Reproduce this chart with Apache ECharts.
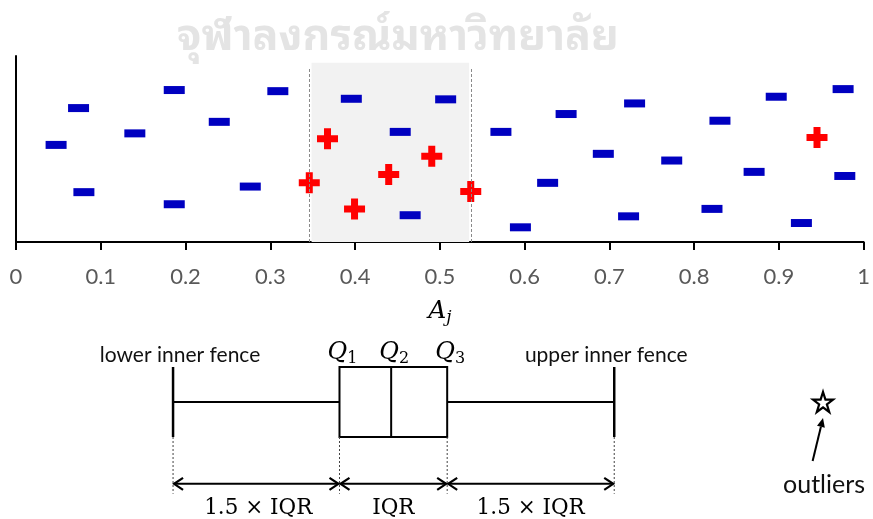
<!DOCTYPE html>
<html>
<head>
<meta charset="utf-8">
<script src="https://cdn.jsdelivr.net/npm/echarts@6/dist/echarts.min.js"></script>
<style>
  html, body { margin: 0; padding: 0; background: #ffffff; }
  #chart { width: 873px; height: 519px; }
</style>
</head>
<body>
<div id="chart"></div>
<script>
// Regular samples: position A_j and vertical jitter
const blueX = [0.0473, 0.0738, 0.0801, 0.1402, 0.1867, 0.1867, 0.2398, 0.2764, 0.3089, 0.3956,
               0.4533, 0.4650, 0.5069, 0.5721, 0.5951, 0.6272, 0.6490, 0.6929, 0.7227, 0.7298,
               0.7736, 0.8211, 0.8305, 0.8708, 0.8969, 0.9266, 0.9758, 0.9778];
const blueY = [0.522, 0.720, 0.268, 0.584, 0.817, 0.203, 0.646, 0.298, 0.811, 0.770,
               0.592, 0.144, 0.767, 0.592, 0.079, 0.318, 0.688, 0.474, 0.138, 0.745,
               0.438, 0.178, 0.652, 0.377, 0.781, 0.102, 0.822, 0.355];
// Highlighted samples
const redX = [0.3675, 0.3460, 0.3994, 0.4397, 0.4905, 0.5365, 0.945];
const redY = [0.555, 0.318, 0.178, 0.363, 0.461, 0.271, 0.562];

// Band between the dashed limits and its shading
const bandLimits = [0.346, 0.5373];
const bandShade = [0.3487, 0.5346];
const bandTop = 0.964;

// Tick labels of the A_j axis
const xTickLabels = ['0', '0.1', '0.2', '0.3', '0.4', '0.5', '0.6', '0.7', '0.8', '0.9', '1'];

// Box diagram: lower inner fence, Q1, Q2, Q3, upper inner fence
const boxStats = [0.1839, 0.3788, 0.4393, 0.5049, 0.7005];
const outlierX = [0.945];

const chart = echarts.init(document.getElementById('chart'), null, { renderer: 'canvas' });

const sansFont = 'Lato, "Open Sans", sans-serif';
const serifFont = '"DejaVu Serif", serif';

const plusPath = 'path://M7,0H14V7H21V14H14V21H7V14H0V7H7Z';
const starPath = 'path://M50,2L61.8,37.6L99,37.6L68.9,59.6L80.4,95L50,73.2L19.6,95L31.1,59.6L1,37.6L38.2,37.6Z';

function drawBoxDiagram(params, api) {
  const lo = api.value(0), q1 = api.value(1), q2 = api.value(2), q3 = api.value(3), hi = api.value(4);
  const P = (x, y) => api.coord([x, y]);
  const kids = [];
  const seg = (a, b, w, dashed) => kids.push({
    type: 'line',
    shape: { x1: a[0], y1: a[1], x2: b[0], y2: b[1] },
    style: dashed ? { stroke: '#444', lineWidth: 1, lineDash: [2, 2] } : { stroke: '#000', lineWidth: w }
  });
  const text = (str, x, y, style) => kids.push({
    type: 'text', x: x, y: y,
    style: Object.assign({ text: str, fill: '#000', align: 'center', verticalAlign: 'middle' }, style)
  });

  // whiskers and fences
  seg(P(lo, 0.5), P(q1, 0.5), 2);
  seg(P(q3, 0.5), P(hi, 0.5), 2);
  seg(P(lo, 0), P(lo, 1), 2.5);
  seg(P(hi, 0), P(hi, 1), 2.5);
  // box and median
  const tl = P(q1, 1), br = P(q3, 0);
  kids.push({ type: 'rect', shape: { x: tl[0], y: tl[1], width: br[0] - tl[0], height: br[1] - tl[1] },
              style: { fill: 'none', stroke: '#000', lineWidth: 2 } });
  seg(P(q2, 0), P(q2, 1), 2);

  // dotted guides down to the dimension arrows
  [lo, q1, q3, hi].forEach(v => seg(P(v, 0), P(v, -0.81), 1, true));

  // double-headed dimension arrows
  const yDim = -0.669;
  const chevron = (x, y, dir) => kids.push({
    type: 'polyline',
    shape: { points: [[x + 9 * dir, y - 6], [x, y], [x + 9 * dir, y + 6]] },
    style: { fill: 'none', stroke: '#000', lineWidth: 2.2 }
  });
  [[lo, q1], [q1, q3], [q3, hi]].forEach(([a, b]) => {
    const pa = P(a, yDim), pb = P(b, yDim);
    seg([pa[0] + 1, pa[1]], [pb[0] - 1, pb[1]], 2);
    chevron(pa[0] + 1, pa[1], 1);
    chevron(pb[0] - 1, pb[1], -1);
  });

  const serif = { fontFamily: serifFont, fontSize: 21.5 };
  const yLab = -1.023;
  const m1 = P((lo + q1) / 2, yLab), m2 = P((q1 + q3) / 2, yLab), m3 = P((q3 + hi) / 2, yLab);
  text('1.5 \u00d7 IQR', m1[0] + 2, m1[1], serif);
  text('IQR', m2[0], m2[1], serif);
  text('1.5 \u00d7 IQR', m3[0], m3[1], serif);

  // fence captions
  const sans = { fontFamily: sansFont, fontSize: 21, fill: '#111' };
  const f1 = P(lo, 1.167), f2 = P(hi, 1.167);
  text('lower inner fence', f1[0] + 7, f1[1], sans);
  text('upper inner fence', f2[0] - 8, f2[1], sans);

  // quartile captions with subscripts
  const qRich = {
    q: { fontFamily: serifFont, fontStyle: 'italic', fontSize: 24, lineHeight: 28 },
    s: { fontFamily: serifFont, fontSize: 16, lineHeight: 16, verticalAlign: 'bottom' }
  };
  [[q1, '1'], [q2, '2'], [q3, '3']].forEach(([v, k]) => {
    const p = P(v, 1.2);
    text('{q|Q}{s|' + k + '}', p[0] + 3, p[1], { rich: qRich });
  });

  return { type: 'group', children: kids };
}

function drawOutlierNote(params, api) {
  const s = api.coord([api.value(0), 0.5]);
  const tip = [s[0], s[1] + 16];
  const tail = [s[0] - 10.4, s[1] + 59];
  const dx = tip[0] - tail[0], dy = tip[1] - tail[1];
  const len = Math.sqrt(dx * dx + dy * dy);
  const ux = dx / len, uy = dy / len;
  const base = [tip[0] - ux * 9, tip[1] - uy * 9];
  return {
    type: 'group',
    children: [
      { type: 'line', shape: { x1: tail[0], y1: tail[1], x2: base[0], y2: base[1] },
        style: { stroke: '#000', lineWidth: 2 } },
      { type: 'polygon', shape: { points: [tip, [base[0] - uy * 4, base[1] + ux * 4], [base[0] + uy * 4, base[1] - ux * 4]] },
        style: { fill: '#000' } },
      { type: 'text', x: s[0] + 1, y: s[1] + 83,
        style: { text: 'outliers', fill: '#111', fontFamily: sansFont, fontSize: 25, align: 'center', verticalAlign: 'middle' } }
    ]
  };
}

const option = {
  backgroundColor: '#ffffff',
  animation: false,
  graphic: [{
    type: 'text', x: 398, y: 38, z: -10,
    style: { text: 'จุฬาลงกรณ์มหาวิทยาลัย', fill: '#e4e4e4', align: 'center', verticalAlign: 'middle',
             fontFamily: '"Noto Sans Thai Looped", "Noto Sans Thai", "Noto Sans", sans-serif', fontSize: 43, fontWeight: 'bold' }
  }],
  grid: [
    { left: 16, right: 3, top: 56, bottom: 277 },
    { left: 16, right: 3, top: 367, height: 70 }
  ],
  xAxis: [{
    gridIndex: 0, type: 'value', min: 0, max: 1, interval: 0.1,
    axisLine: { show: true, lineStyle: { color: '#000', width: 2 } },
    axisTick: { show: true, length: 8, lineStyle: { color: '#000', width: 2 } },
    axisLabel: { color: '#595959', fontFamily: sansFont, fontSize: 22, margin: 24,
                 formatter: v => xTickLabels[Math.round(v * 10)] },
    splitLine: { show: false },
    name: '{a|A}{j|j}', nameLocation: 'middle', nameGap: 54,
    nameTextStyle: {
      rich: {
        a: { fontFamily: serifFont, fontStyle: 'italic', fontSize: 25, lineHeight: 30, color: '#000' },
        j: { fontFamily: serifFont, fontStyle: 'italic', fontSize: 17, lineHeight: 16, verticalAlign: 'bottom', color: '#000' }
      }
    }
  }, {
    gridIndex: 1, type: 'value', min: 0, max: 1, show: false
  }],
  yAxis: [{
    gridIndex: 0, type: 'value', min: 0, max: 1,
    axisLine: { show: true, lineStyle: { color: '#000', width: 2 } },
    axisTick: { show: false }, axisLabel: { show: false }, splitLine: { show: false }
  }, {
    gridIndex: 1, type: 'value', min: 0, max: 1, show: false
  }],
  series: [
    {
      type: 'scatter', xAxisIndex: 0, yAxisIndex: 0, z: 3,
      symbol: 'rect', symbolSize: [21, 8],
      itemStyle: { color: '#0000c0', opacity: 1 },
      data: blueX.map((x, i) => [x, blueY[i]]),
      markArea: {
        silent: true,
        itemStyle: { color: '#f2f2f2' },
        data: [[{ coord: [bandShade[0], 0] }, { coord: [bandShade[1], bandTop] }]]
      },
      markLine: {
        silent: true, symbol: 'none', label: { show: false },
        lineStyle: { color: '#8a8a8a', width: 1, type: [3, 2] },
        data: bandLimits.map(v => [{ coord: [v, 0] }, { coord: [v, 0.94] }])
      }
    },
    {
      type: 'scatter', xAxisIndex: 0, yAxisIndex: 0, z: 4,
      symbol: plusPath, symbolSize: 21,
      itemStyle: { color: '#ff0000', opacity: 1 },
      data: redX.map((x, i) => [x, redY[i]])
    },
    {
      type: 'custom', xAxisIndex: 1, yAxisIndex: 1,
      renderItem: drawBoxDiagram,
      data: [boxStats]
    },
    {
      type: 'scatter', xAxisIndex: 1, yAxisIndex: 1,
      symbol: starPath, symbolSize: 20,
      itemStyle: { color: '#ffffff', borderColor: '#000', borderWidth: 2.2, opacity: 1 },
      data: outlierX.map(x => [x, 0.5])
    },
    {
      type: 'custom', xAxisIndex: 1, yAxisIndex: 1,
      renderItem: drawOutlierNote,
      data: outlierX.map(x => [x])
    }
  ]
};

chart.setOption(option);
</script>
</body>
</html>
